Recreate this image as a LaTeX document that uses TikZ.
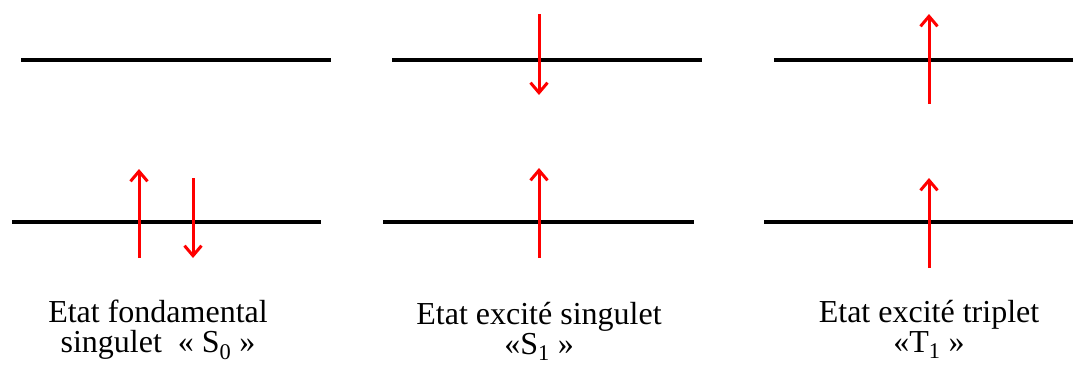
\documentclass[tikz,border=0pt]{standalone}
\usepackage{fontspec}
\setmainfont{Liberation Serif}
\usetikzlibrary{arrows.meta}

\begin{document}
\begin{tikzpicture}[
  x=1pt, y=-1pt,
  level/.style={line width=3.6pt, black},
  spin/.style={-{Straight Barb[length=10pt, width=17pt, line width=3pt]}, line width=3pt, red},
  caption/.style={align=center, anchor=north, inner sep=0pt,
    font=\fontsize{32}{30}\selectfont}
]
\useasboundingbox (0,0) rectangle (1073,365);
% energy levels
\draw[level] (21,60) -- (331,60);
\draw[level] (12,222) -- (321,222);
\draw[level] (392,60) -- (702,60);
\draw[level] (383,222) -- (694,222);
\draw[level] (774,60) -- (1073,60);
\draw[level] (764,222) -- (1073,222);
% spins
\coordinate (s0a) at (139,258);
\coordinate (s0b) at (193,178);
\coordinate (s1a) at (539,14);
\coordinate (s1b) at (539,258);
\coordinate (t1a) at (929,104);
\coordinate (t1b) at (929,268);
\draw[spin] (s0a) -- ++(0,-89);
\draw[spin] (s0b) -- ++(0,80);
\draw[spin] (s1a) -- ++(0,81);
\draw[spin] (s1b) -- ++(0,-90);
\draw[spin] (t1a) -- ++(0,-90);
\draw[spin] (t1b) -- ++(0,-90);
% captions
\node (cs0) [caption] at (158,300) {Etat fondamental\\singulet~~« S\textsubscript{0} »};
\node (cs1) [caption] at (539,302) {Etat excité singulet\\«S\textsubscript{1} »};
\node (ct1) [caption] at (929,300) {Etat excité triplet\\«T\textsubscript{1} »};
\end{tikzpicture}
\end{document}
